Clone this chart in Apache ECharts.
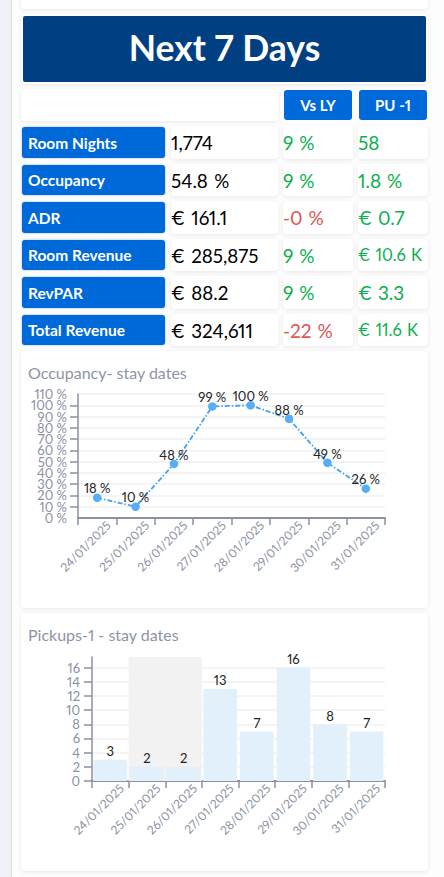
<!DOCTYPE html>
<html><head><meta charset="utf-8">
<script src="https://cdn.jsdelivr.net/npm/echarts@6/dist/echarts.min.js"></script>
<style>
html,body{margin:0;padding:0;background:#fdfdfd;width:444px;height:877px;overflow:hidden;font-family:Lato,"Noto Sans",sans-serif;font-variant-numeric:proportional-nums}
.abs{position:absolute;box-sizing:border-box}
#strip{left:0;top:0;width:11px;height:877px;background:#f1f2f7}
#strip2{left:11px;top:0;width:1px;height:877px;background:#d9dce3}
.card{background:#fff;border-radius:4px;box-shadow:0 1px 4px rgba(0,0,0,.09)}
.lab{background:#0069da;color:#fff;font-weight:700;font-size:15.5px;border-radius:3px;display:flex;align-items:center;padding-left:6px;box-shadow:0 0 2px rgba(0,80,180,.5)}
.hd{background:#0069da;color:#fff;font-weight:700;font-size:15px;border-radius:3px;display:flex;align-items:center;justify-content:center}
.val{display:flex;align-items:center;color:#000;font-size:18.8px;word-spacing:1.5px}
.delta{display:flex;align-items:center;font-size:19px;word-spacing:1px}
#title{left:23px;top:16px;width:403px;height:66px;padding-bottom:3px;background:#003f82;color:#fff;font-weight:700;font-size:35.5px;display:flex;align-items:center;justify-content:center;border-radius:2px}
</style></head><body>
<div class="abs" id="strip"></div><div class="abs" id="strip2"></div>
<div class="abs card" style="left:21px;top:-10px;width:407px;height:19px"></div>
<div class="abs card" style="left:21px;top:14px;width:407px;height:70px"></div>
<div class="abs" id="title"></div>
<div class="abs card" style="left:21px;top:89px;width:257px;height:32px"></div>
<div id="table"></div>
<div class="abs card" style="left:21px;top:351px;width:407px;height:257px"></div>
<div class="abs card" style="left:21px;top:613px;width:407px;height:258px"></div>
<div class="abs" id="c1" style="left:21px;top:351px;width:407px;height:257px"></div>
<div class="abs" id="c2" style="left:21px;top:613px;width:407px;height:258px"></div>
<script>
const pageTitle = "Next 7 Days";
const columnHeads = ["Vs LY", "PU -1"];
const metrics = ["Room Nights", "Occupancy", "ADR", "Room Revenue", "RevPAR", "Total Revenue"];
const metricValues = ["1,774", "54.8 %", "€ 161.1", "€ 285,875", "€ 88.2", "€ 324,611"];
const vsLastYear = ["9 %", "9 %", "-0 %", "9 %", "9 %", "-22 %"];
const pickup = ["58", "1.8 %", "€ 0.7", "€ 10.6 K", "€ 3.3", "€ 11.6 K"];
const dates = ["24/01/2025","25/01/2025","26/01/2025","27/01/2025","28/01/2025","29/01/2025","30/01/2025","31/01/2025"];
const occupancy = [18, 10, 48, 99, 100, 88, 49, 26];
const pickups = [3, 2, 2, 13, 7, 16, 8, 7];
const shadedDates = ["25/01/2025", "26/01/2025"];

document.getElementById("title").textContent = pageTitle;
const rowTops = [127, 165, 202, 240, 277, 315];
const rowH = [31, 30, 31, 30, 31, 30];
const green = "#0bb04f", red = "#e05353";
const T = document.getElementById("table");
function add(cls, l, t, w, h, text, style) {
  const d = document.createElement("div");
  d.className = "abs " + cls;
  d.style.cssText = `left:${l}px;top:${t}px;width:${w}px;height:${h}px;` + (style || "");
  d.textContent = text;
  T.appendChild(d);
}
add("hd", 284, 90, 68, 30, columnHeads[0]);
add("hd", 359, 90, 68, 30, columnHeads[1]);
metrics.forEach((m, i) => {
  const t = rowTops[i], h = rowH[i];
  add("lab", 22, t, 143, h, m);
  add("card val", 171, t - 1, 107, h + 2, metricValues[i]);
  const col = s => s.trim().startsWith("-") ? red : green;
  add("card delta", 283, t - 1, 70, h + 2, vsLastYear[i], "color:" + col(vsLastYear[i]));
  add("card delta", 358, t - 1, 70, h + 2, pickup[i], "color:" + col(pickup[i]) + (pickup[i].endsWith("K") ? ";font-size:16.5px" : ""));
});

const FONT = "Lato";
const axisGray = "#8b91a3";
const xAxis = () => ({
  type: "category", data: dates,
  axisLine: {lineStyle: {color: axisGray, width: 2}},
  axisTick: {show: true, length: 7, lineStyle: {color: axisGray, width: 1.5}},
  axisLabel: {rotate: 45, color: axisGray, fontFamily: FONT, fontSize: 12, margin: 16.5, interval: 0, hideOverlap: false, padding: [0, -16, 0, 0]},
  splitLine: {show: false}
});
const yAxisBase = {
  type: "value",
  axisLine: {show: true, lineStyle: {color: axisGray, width: 1.5}},
  axisTick: {show: true, length: 8, lineStyle: {color: axisGray, width: 1.5}},
  splitLine: {show: true, lineStyle: {color: "#f1f1f2", width: 1.5}}
};
const titleStyle = t => ({text: t, left: 2, top: 8, textStyle: {color: "#8d94a6", fontFamily: FONT, fontWeight: 400, fontSize: 16}});
const occLabel = extra => Object.assign({color: axisGray, fontFamily: FONT, fontSize: 13, margin: 11, hideOverlap: false, formatter: "{value} %"}, extra);

const c1 = echarts.init(document.getElementById("c1"), null, {renderer: "svg"});
c1.setOption({
  animation: false,
  title: titleStyle("Occupancy- stay dates"),
  grid: {left: 57, right: 43, top: 43, bottom: 90},
  xAxis: xAxis(),
  yAxis: [
    Object.assign({}, yAxisBase, {min: 0, max: 110, interval: 10,
      axisLabel: occLabel({showMinLabel: false, showMaxLabel: false})}),
    {type: "value", position: "left", min: 0, max: 110, interval: 110,
      axisLine: {show: false}, axisTick: {show: false}, splitLine: {show: false},
      axisLabel: occLabel({showMinLabel: true, showMaxLabel: true})}
  ],
  series: [{
    type: "line", data: occupancy, symbol: "circle", symbolSize: 8.5,
    itemStyle: {color: "#56adfa"},
    lineStyle: {color: "#3fa2f5", width: 1.8, type: [5, 2, 1.5, 2]},
    label: {show: true, position: "top", distance: -1.5, color: "#222", fontFamily: FONT, fontSize: 13, formatter: "{c} %"},
    labelLayout: {hideOverlap: false}
  }]
});

const c2 = echarts.init(document.getElementById("c2"), null, {renderer: "svg"});
c2.setOption({
  animation: false,
  title: titleStyle("Pickups-1 - stay dates"),
  grid: {left: 71, right: 43, top: 44, bottom: 90},
  xAxis: xAxis(),
  yAxis: Object.assign({}, yAxisBase, {min: 0, max: 17.5, interval: 2,
    splitLine: {show: true, showMaxLine: false, lineStyle: {color: "#f1f1f2", width: 1.5}},
    axisLabel: {color: axisGray, fontFamily: FONT, fontSize: 13, margin: 12, showMinLabel: true, showMaxLabel: false}}),
  series: [{
    type: "bar", data: pickups, barCategoryGap: "8%",
    itemStyle: {color: "#e2f0fb"},
    label: {show: true, position: "top", distance: 2, color: "#222", fontFamily: FONT, fontSize: 13},
    markArea: {silent: true, itemStyle: {color: "#f2f2f2"}, data: [[{xAxis: shadedDates[0]}, {xAxis: shadedDates[1]}]]}
  }]
});
</script>
</body></html>
